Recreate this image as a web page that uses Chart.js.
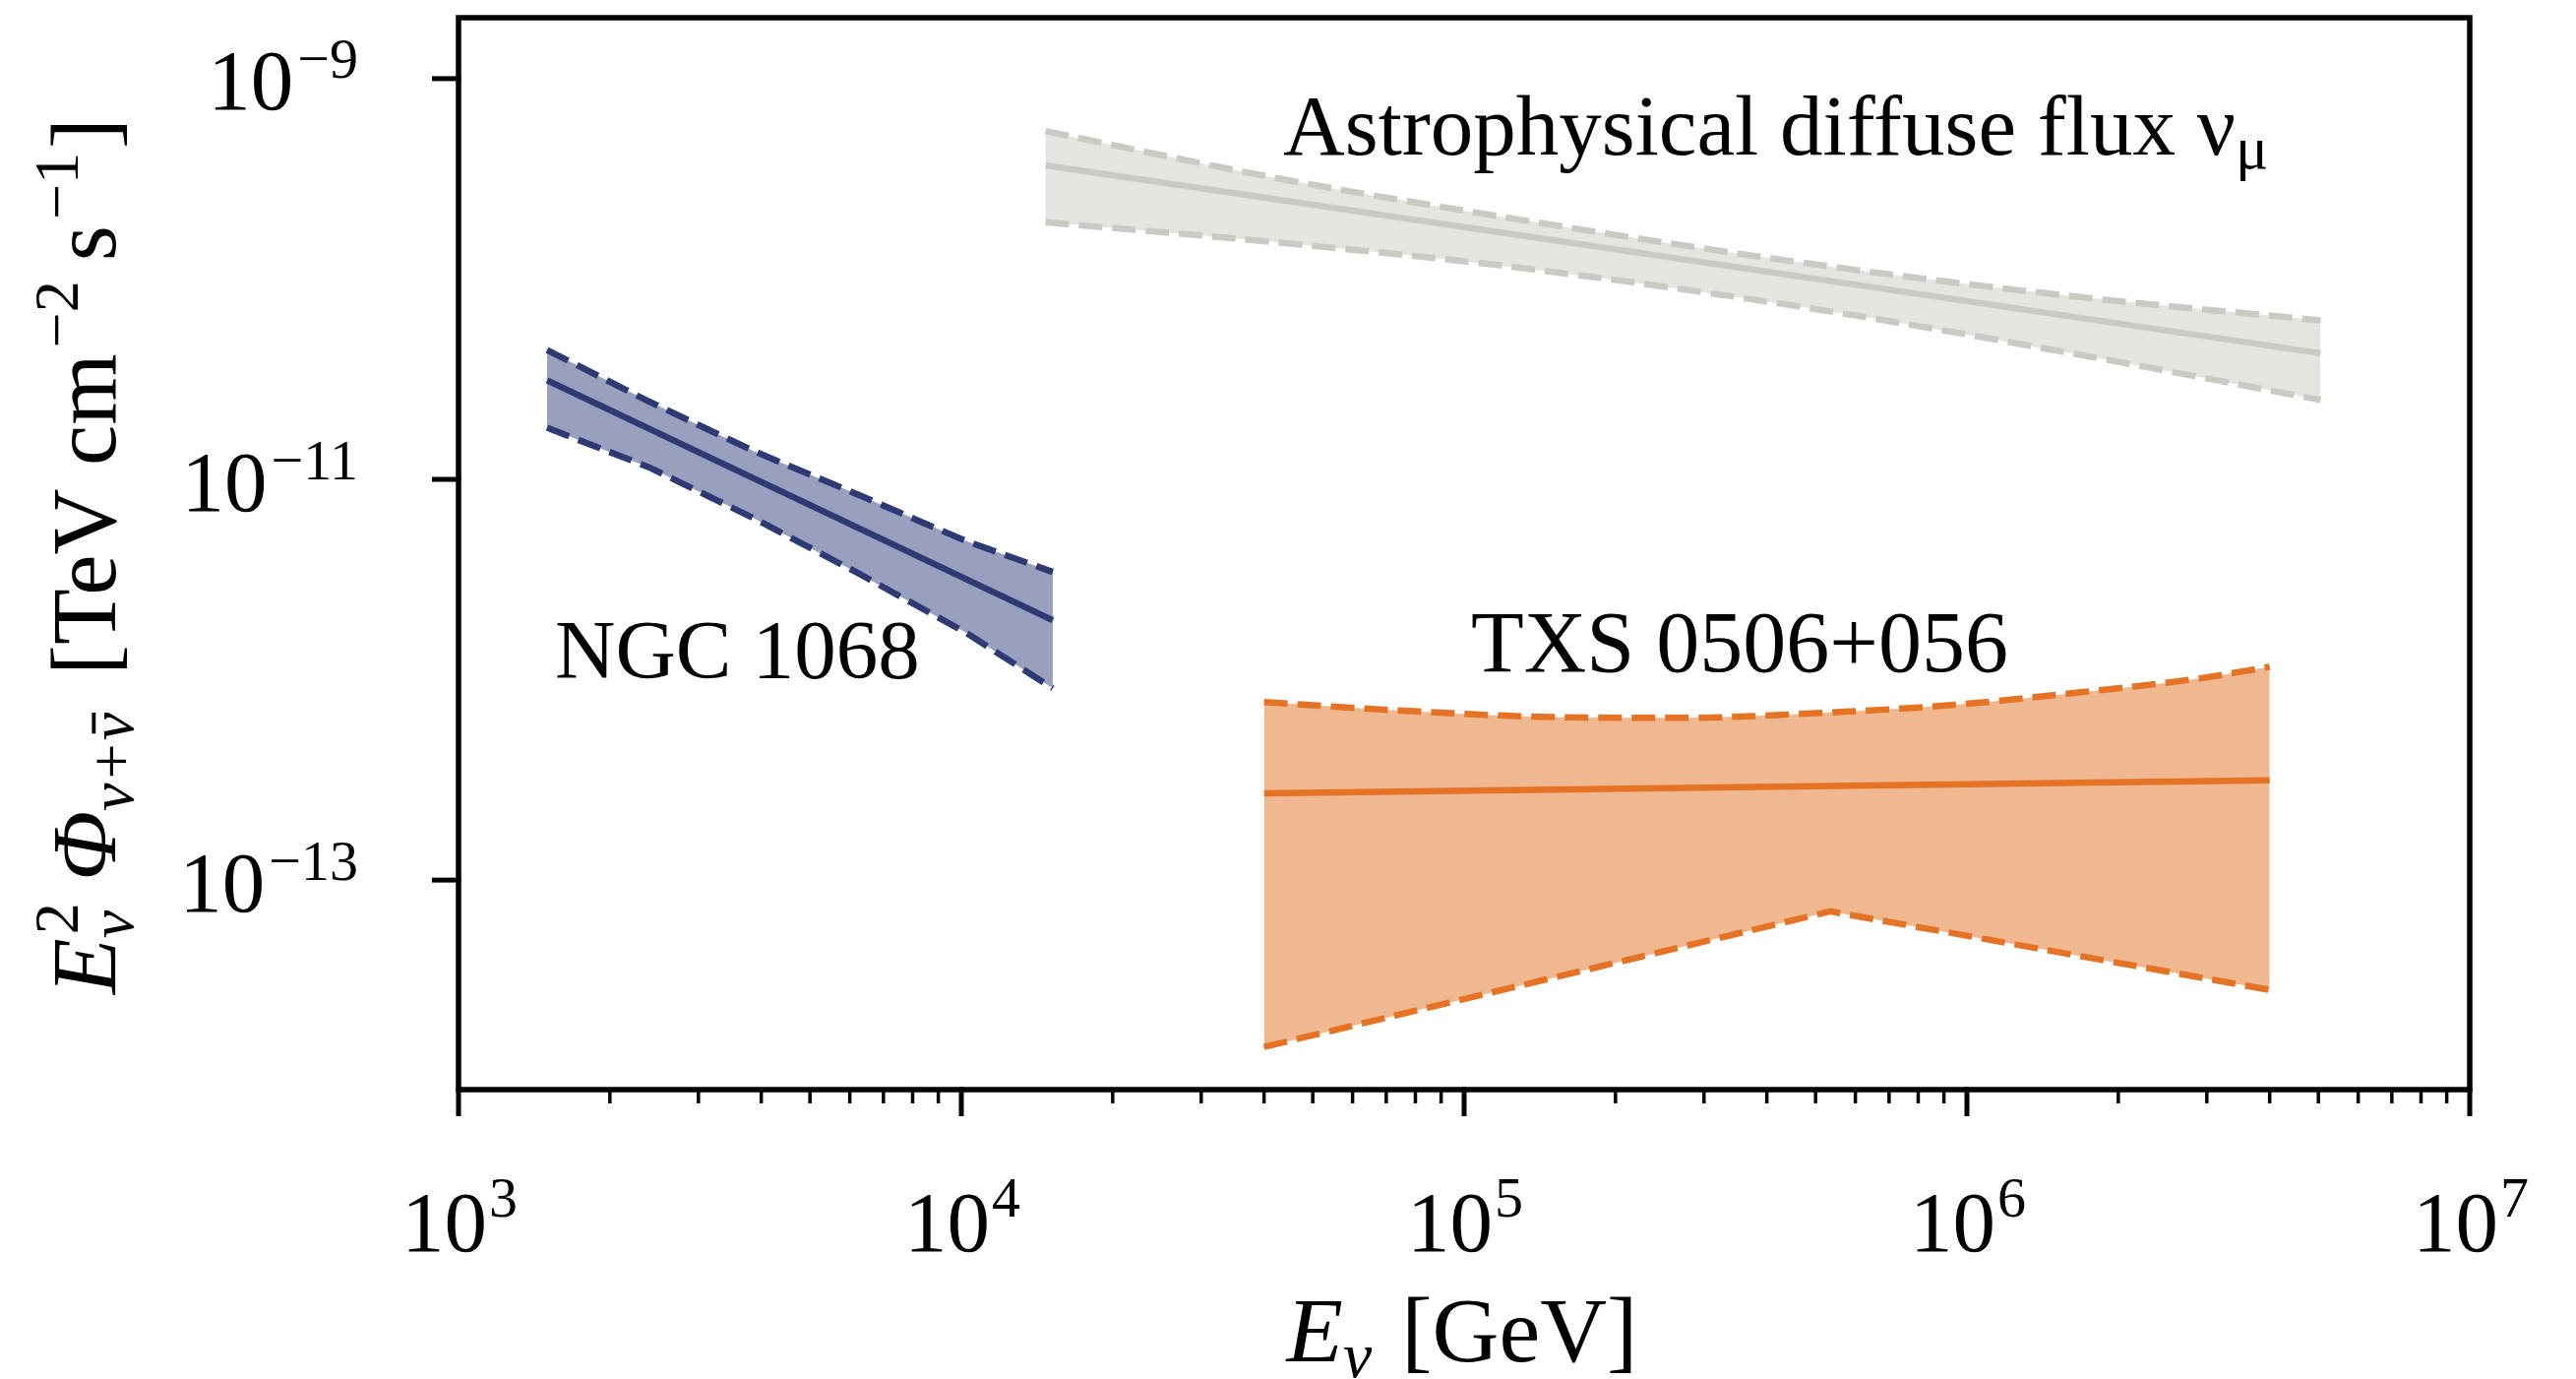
<!DOCTYPE html>
<html>
<head>
<meta charset="utf-8">
<script src="https://cdn.jsdelivr.net/npm/chart.js@4.4.1/dist/chart.umd.min.js"></script>
<style>
  html, body { margin: 0; padding: 0; background: #ffffff; }
  canvas { display: block; }
</style>
</head>
<body>
<canvas id="c" width="2618" height="1401" style="width:2618px;height:1401px"></canvas>
<script>
// ---------------- data ----------------
// NGC 1068 (E in GeV, E^2 Phi in TeV cm^-2 s^-1)
const ngcE      = [1500, 2390, 3850, 6250, 10200, 15200];
const ngcUpper  = [4.42e-11, 2.45e-11, 1.39e-11, 8.36e-12, 4.93e-12, 3.45e-12];
const ngcLower  = [1.81e-11, 1.15e-11, 6.43e-12, 3.39e-12, 1.72e-12, 9.06e-13];
const ngcBestE  = [1500, 15200];
const ngcBest   = [3.12e-11, 1.98e-12];

// Astrophysical diffuse flux nu_mu
const astroE     = [14700, 42900, 132000, 489000, 1580000, 5050000];
const astroUpper = [5.47e-10, 3.17e-10, 1.96e-10, 1.19e-10, 8.26e-11, 6.21e-11];
const astroLower = [1.92e-10, 1.52e-10, 1.13e-10, 7.14e-11, 4.30e-11, 2.49e-11];
const astroBestE = [14700, 5050000];
const astroBest  = [3.69e-10, 4.26e-11];

// TXS 0506+056
const txsUpperE = [40000, 75300, 142000, 267000, 502000, 946000, 1780000, 2860000, 4000000];
const txsUpper  = [7.73e-13, 7.01e-13, 6.53e-13, 6.45e-13, 6.81e-13, 7.50e-13, 8.79e-13, 1.01e-12, 1.16e-12];
const txsLowerE = [40000, 535000, 4000000];
const txsLower  = [1.47e-14, 6.98e-14, 2.83e-14];
const txsBestE  = [40000, 4000000];
const txsBest   = [2.71e-13, 3.15e-13];

// axes
const xMin = 1e3, xMax = 1e7;
const yMin = Math.pow(10, -14.04), yMax = Math.pow(10, -8.696);
const xTickExponents = [3, 4, 5, 6, 7];
const yTickExponents = [-9, -11, -13];
const xMinorMultipliers = [2, 3, 4, 5, 6, 7, 8, 9];

// texts
const labelNGC   = 'NGC 1068';
const labelTXS   = 'TXS 0506+056';
const labelAstro = 'Astrophysical diffuse flux ν';
const labelAstroSub = 'μ';

// colours
const cNGC = '#2e3a74', fNGC = '#99a0bd';
const cAstro = '#c9cac3', fAstro = '#e4e5e0';
const cTXS = '#e57325', fTXS = '#f0b890';

// ---------------- helpers ----------------
const pts = (xs, ys) => xs.map((x, i) => ({x: x, y: ys[i]}));
const SERIF = '"Liberation Serif", "Times New Roman", serif';

function fontOf(r) {
  return (r.italic ? 'italic ' : '') + r.size + 'px ' + SERIF;
}
function drawRich(ctx, runs, x, y, align) {
  const widths = runs.map(r => { ctx.font = fontOf(r); return ctx.measureText(r.t).width; });
  const pos = [];
  let cx = 0;
  runs.forEach((r, i) => {
    if (r.stack) {
      const p = pos[i - 1];
      pos.push(p);
      cx = Math.max(cx, p + widths[i] + (r.gap || 0));
    } else {
      pos.push(cx);
      cx += widths[i] + (r.gap || 0);
    }
  });
  const total = cx;
  const start = align === 'center' ? x - total / 2 : (align === 'right' ? x - total : x);
  ctx.textAlign = 'left';
  ctx.textBaseline = 'alphabetic';
  runs.forEach((r, i) => {
    ctx.font = fontOf(r);
    const px = start + pos[i] + (r.dx || 0);
    const py = y + (r.dy || 0);
    ctx.fillText(r.t, px, py);
    if (r.bar) {
      const w = widths[i];
      ctx.save();
      ctx.lineWidth = r.size * 0.06;
      ctx.beginPath();
      ctx.moveTo(px + w * 0.25, py - r.size * 0.62);
      ctx.lineTo(px + w * 1.0, py - r.size * 0.62);
      ctx.stroke();
      ctx.restore();
    }
  });
  return total;
}

// ---------------- decorations plugin (spines, ticks, labels, titles) ----------------
const decor = {
  id: 'decor',
  afterDraw(chart) {
    const ctx = chart.ctx;
    const a = chart.chartArea;
    const xs = chart.scales.x, ys = chart.scales.y;
    ctx.save();
    ctx.fillStyle = '#000';
    ctx.strokeStyle = '#000';
    ctx.lineCap = 'butt';

    // spines
    ctx.lineWidth = 5.5;
    ctx.strokeRect(a.left, a.top, a.right - a.left, a.bottom - a.top);

    const seg = (x1, y1, x2, y2) => { ctx.beginPath(); ctx.moveTo(x1, y1); ctx.lineTo(x2, y2); ctx.stroke(); };

    // x ticks
    ctx.lineWidth = 5;
    xTickExponents.forEach(e => {
      const px = xs.getPixelForValue(Math.pow(10, e));
      seg(px, a.bottom - 2.5, px, a.bottom + 27);
    });
    ctx.lineWidth = 3.5;
    xTickExponents.slice(0, -1).forEach(e => {
      xMinorMultipliers.forEach(m => {
        const px = xs.getPixelForValue(m * Math.pow(10, e));
        seg(px, a.bottom, px, a.bottom + 14);
      });
    });
    // y ticks
    ctx.lineWidth = 5;
    yTickExponents.forEach(e => {
      const py = ys.getPixelForValue(Math.pow(10, e));
      seg(a.left - 27, py, a.left + 2.5, py);
    });

    // x tick labels
    xTickExponents.forEach(e => {
      const px = xs.getPixelForValue(Math.pow(10, e));
      drawRich(ctx, [
        {t: '10', size: 87},
        {t: String(e), size: 58, dy: -35, dx: 2}
      ], px, a.bottom + 164, 'center');
    });
    // y tick labels
    yTickExponents.forEach(e => {
      const py = ys.getPixelForValue(Math.pow(10, e));
      drawRich(ctx, [
        {t: '10', size: 87, gap: 4},
        {t: '\u2212' + String(-e), size: 58, dy: -32}
      ], a.left - 102, py + 31.5, 'right');
    });

    // x axis title
    drawRich(ctx, [
      {t: 'E', size: 94, italic: true},
      {t: 'ν', size: 66, italic: true, dy: 16, gap: 30},
      {t: '[GeV]', size: 94}
    ], 1486, 1383, 'center');

    // y axis title (rotated)
    ctx.save();
    ctx.translate(117, 565);
    ctx.rotate(-Math.PI / 2);
    drawRich(ctx, [
      {t: 'E', size: 93, italic: true},
      {t: '2', size: 64, dy: -38, dx: 4},
      {t: 'ν', size: 64, italic: true, dy: 18, stack: true, gap: 30},
      {t: 'Φ', size: 93, italic: true},
      {t: 'ν+', size: 64, italic: true, dy: 18},
      {t: 'ν', size: 64, italic: true, dy: 18, bar: true, gap: 38},
      {t: '[TeV cm', size: 93},
      {t: '\u22122', size: 64, dy: -38, dx: 6, gap: 26},
      {t: 's', size: 93},
      {t: '\u22121', size: 64, dy: -38, dx: 6, gap: 10},
      {t: ']', size: 93}
    ], 0, 0, 'center');
    ctx.restore();

    // annotations
    drawRich(ctx, [{t: labelNGC, size: 85}], 564, 689, 'left');
    drawRich(ctx, [{t: labelTXS, size: 88}], 1768, 682, 'center');
    drawRich(ctx, [
      {t: labelAstro, size: 87},
      {t: labelAstroSub, size: 62, dy: 14}
    ], 1304, 157, 'left');

    ctx.restore();
  }
};

// ---------------- chart ----------------
const dashed = [24, 10];
function band(dataPts, color, fillColor, fillTarget, extra) {
  return Object.assign({
    data: dataPts,
    borderColor: color,
    backgroundColor: fillColor,
    borderWidth: 6.5,
    borderDash: dashed,
    borderCapStyle: 'butt',
    pointRadius: 0,
    fill: fillTarget
  }, extra || {});
}
function best(dataPts, color) {
  return {
    data: dataPts,
    borderColor: color,
    borderWidth: 6.5,
    pointRadius: 0,
    fill: false,
    borderCapStyle: 'butt'
  };
}

const datasets = [
  // 0,1: astro band
  band(pts(astroE, astroUpper), cAstro, fAstro, 1, {cubicInterpolationMode: 'monotone'}),
  band(pts(astroE, astroLower), cAstro, fAstro, false, {cubicInterpolationMode: 'monotone'}),
  best(pts(astroBestE, astroBest), cAstro),
  // 3,4: NGC band
  band(pts(ngcE, ngcUpper), cNGC, fNGC, 4),
  band(pts(ngcE, ngcLower), cNGC, fNGC, false),
  best(pts(ngcBestE, ngcBest), cNGC),
  // 6,7: TXS band
  band(pts(txsUpperE, txsUpper), cTXS, fTXS, 7, {cubicInterpolationMode: 'monotone'}),
  band(pts(txsLowerE, txsLower), cTXS, fTXS, false),
  best(pts(txsBestE, txsBest), cTXS)
];

new Chart(document.getElementById('c'), {
  type: 'line',
  data: { datasets: datasets },
  options: {
    responsive: false,
    animation: false,
    events: [],
    layout: { padding: { left: 466, right: 108, top: 18, bottom: 294 } },
    scales: {
      x: { type: 'logarithmic', min: xMin, max: xMax, display: false },
      y: { type: 'logarithmic', min: yMin, max: yMax, display: false }
    },
    plugins: {
      legend: { display: false },
      tooltip: { enabled: false },
      filler: { drawTime: 'beforeDatasetsDraw' }
    }
  },
  plugins: [decor]
});
</script>
</body>
</html>
